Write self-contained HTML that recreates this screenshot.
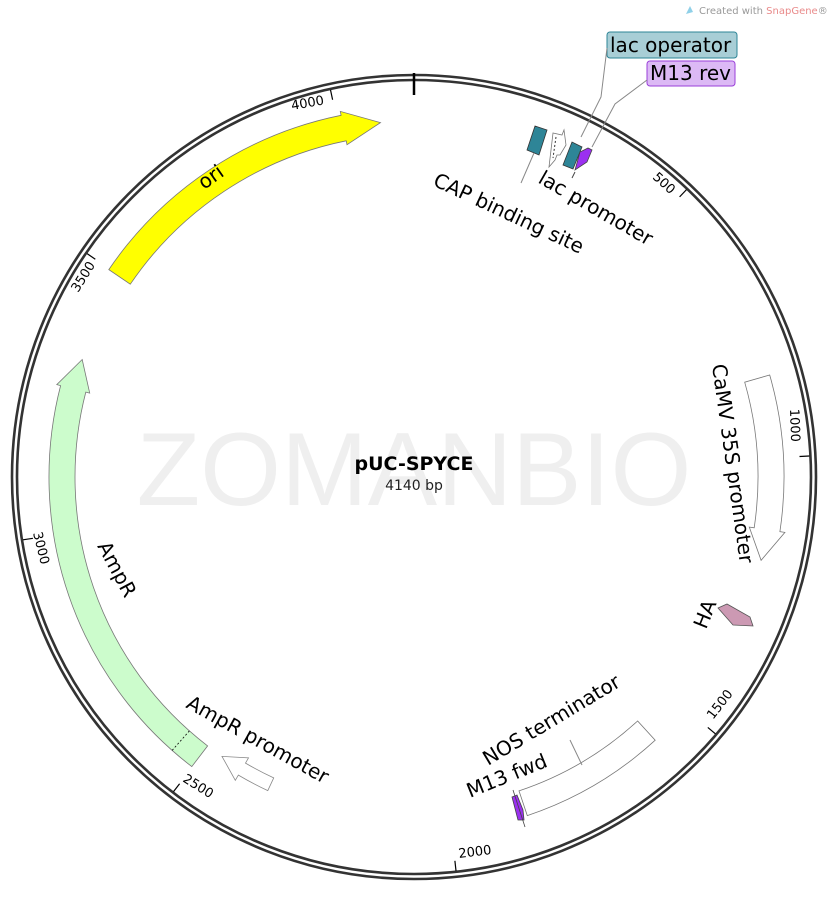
<!DOCTYPE html>
<html><head><meta charset="utf-8"><style>
html,body{margin:0;padding:0;background:#fff;}
svg{display:block;font-family:"DejaVu Sans","Liberation Sans",sans-serif;}
</style></head><body>
<svg id="s" width="829" height="902" viewBox="0 0 829 902" xmlns="http://www.w3.org/2000/svg">
<text x="699" y="14" font-size="10" fill="#999">Created with <tspan fill="#e98a8a">SnapGene</tspan>®</text>
<path d="M686 14 l4 -8 l3 6 z" fill="#8fd0e8"/>
<text x="414" y="505" font-size="104" fill="#efefef" text-anchor="middle" font-family="Liberation Sans, sans-serif">ZOMANBIO</text>
<circle cx="414" cy="477" r="402" fill="none" stroke="#333" stroke-width="2.6"/>
<circle cx="414" cy="477" r="397" fill="none" stroke="#333" stroke-width="2.6"/>
<line x1="414" y1="73" x2="414" y2="95" stroke="#000" stroke-width="2.5"/>
<g id="feat"></g>
<!-- small features drawn manually -->
<polygon points="527,150 535,126 547,130 539,155" fill="#2e8597" stroke="#333" stroke-width="0.8"/>
<polygon points="549,167 553,133 562,135 564,130 566,145 560,155 557,155 555,160" fill="#fff" stroke="#777" stroke-width="0.8"/>
<line x1="556" y1="137" x2="553" y2="158" stroke="#333" stroke-dasharray="2,2"/>
<polygon points="563,165 572,142 582,147 573,169" fill="#2e8597" stroke="#333" stroke-width="0.8"/>
<polygon points="575,170 580,152 588,148 592,150 587,162" fill="#9b30f0" stroke="#444" stroke-width="0.8"/>
<line x1="575" y1="172" x2="572" y2="178" stroke="#444"/>
<polygon points="718,608 727,604 750,617 753,626 733,625" fill="#cc99b3" stroke="#555" stroke-width="0.8"/>
<polygon points="512,797 517,795 523,810 524,820 518,820" fill="#9b30f0" stroke="#444" stroke-width="0.8"/>
<line x1="513" y1="790" x2="525" y2="827" stroke="#444" stroke-width="0.8"/>
<text x="414" y="470" font-size="19" font-weight="bold" text-anchor="middle">pUC-SPYCE</text>
<text x="414" y="490" font-size="14" text-anchor="middle" fill="#222">4140 bp</text>

<g font-size="20" fill="#000">
<text transform="translate(204,190) rotate(-35)">ori</text>
<text transform="translate(537,182) rotate(30)">lac promoter</text>
<text transform="translate(432,185) rotate(25)">CAP binding site</text>
<text transform="translate(712,365) rotate(82)">CaMV 35S promoter</text>
<text transform="translate(706,630) rotate(-68)">HA</text>
<text transform="translate(488,766) rotate(-31)">NOS terminator</text>
<text transform="translate(470,798) rotate(-22)">M13 fwd</text>
<text transform="translate(185,707) rotate(29)">AmpR promoter</text>
<text transform="translate(97,546) rotate(62)">AmpR</text>
</g>
<g font-size="13" fill="#000">
<text transform="translate(292,110) rotate(-10)">4000</text>
<text transform="translate(78,293) rotate(-58)">3500</text>
<text transform="translate(33,533) rotate(76)">3000</text>
<text transform="translate(182,781) rotate(32)">2500</text>
<text transform="translate(459,858) rotate(-7)">2000</text>
<text transform="translate(713,720) rotate(-52)">1500</text>
<text transform="translate(790,409) rotate(88)">1000</text>
<text transform="translate(652,178) rotate(42)">500</text>
</g>
<rect x="607" y="32" width="130" height="26" rx="3" fill="#a8ced6" stroke="#2e8597"/>
<text x="610" y="52" font-size="20">lac operator</text>
<rect x="647" y="61" width="88" height="25" rx="3" fill="#dcb9f5" stroke="#9a3fd9"/>
<text x="650" y="80" font-size="20">M13 rev</text>
<g stroke="#888" fill="none" stroke-width="1">
<polyline points="607,48 601,97 581,137"/>
<polyline points="647,80 615,104 592,147"/>
<line x1="521" y1="183" x2="534" y2="153"/>
<line x1="570" y1="740" x2="582" y2="765"/>
</g>
</svg>
<script>
var cx=414,cy=477,NS="http://www.w3.org/2000/svg";
function P(a,r){var t=a*Math.PI/180;return [cx+r*Math.sin(t),cy-r*Math.cos(t)];}
function f(p){return p[0].toFixed(1)+" "+p[1].toFixed(1);}
function arc(a1,a2,r){var s=a2>a1?1:0,l=Math.abs(a2-a1)>180?1:0;return "A"+r+" "+r+" 0 "+l+" "+s+" "+f(P(a2,r));}
function arrow(a1,a2,rm,w,hd,hw){
  var ro=rm+w/2,ri=rm-w/2,dir=a2>a1?1:-1,hb=a2-dir*hd;
  return "M"+f(P(a1,ro))+arc(a1,hb,ro)+"L"+f(P(hb,rm+hw/2))+"L"+f(P(a2,rm))+"L"+f(P(hb,rm-hw/2))+"L"+f(P(hb,ri))+arc(hb,a1,ri)+"Z";
}
function box(a1,a2,rm,w){var ro=rm+w/2,ri=rm-w/2;return "M"+f(P(a1,ro))+arc(a1,a2,ro)+"L"+f(P(a2,ri))+arc(a2,a1,ri)+"Z";}
var g=document.getElementById("feat");
function add(d,fill,stroke,extra){var p=document.createElementNS(NS,"path");p.setAttribute("d",d);p.setAttribute("fill",fill);p.setAttribute("stroke",stroke||"#666");p.setAttribute("stroke-width","0.8");if(extra)for(var k in extra)p.setAttribute(k,extra[k]);g.appendChild(p);}
add(arrow(-55.8,-5.4,356,26,6,34),"#ffff00","#777");
add(arrow(217.5,289.5,352,26,5,34),"#ccfccc","#777");
var a=221.5;add("M"+f(P(a,339))+"L"+f(P(a,365)),"none","#000",{"stroke-dasharray":"2,2"});
add(arrow(205,214.5,339,14,4,26),"#fff","#888");
add(arrow(74,103.5,357,26,5,36),"#fff","#777");
add(box(137.5,161.5,344,26),"#fff","#777");
[500,1000,1500,2000,2500,3000,3500,4000].forEach(function(b){var a=b/4140*360;add("M"+f(P(a,396))+"L"+f(P(a,386)),"none","#000",{"stroke-width":"1.2"});});
</script>
</body></html>
